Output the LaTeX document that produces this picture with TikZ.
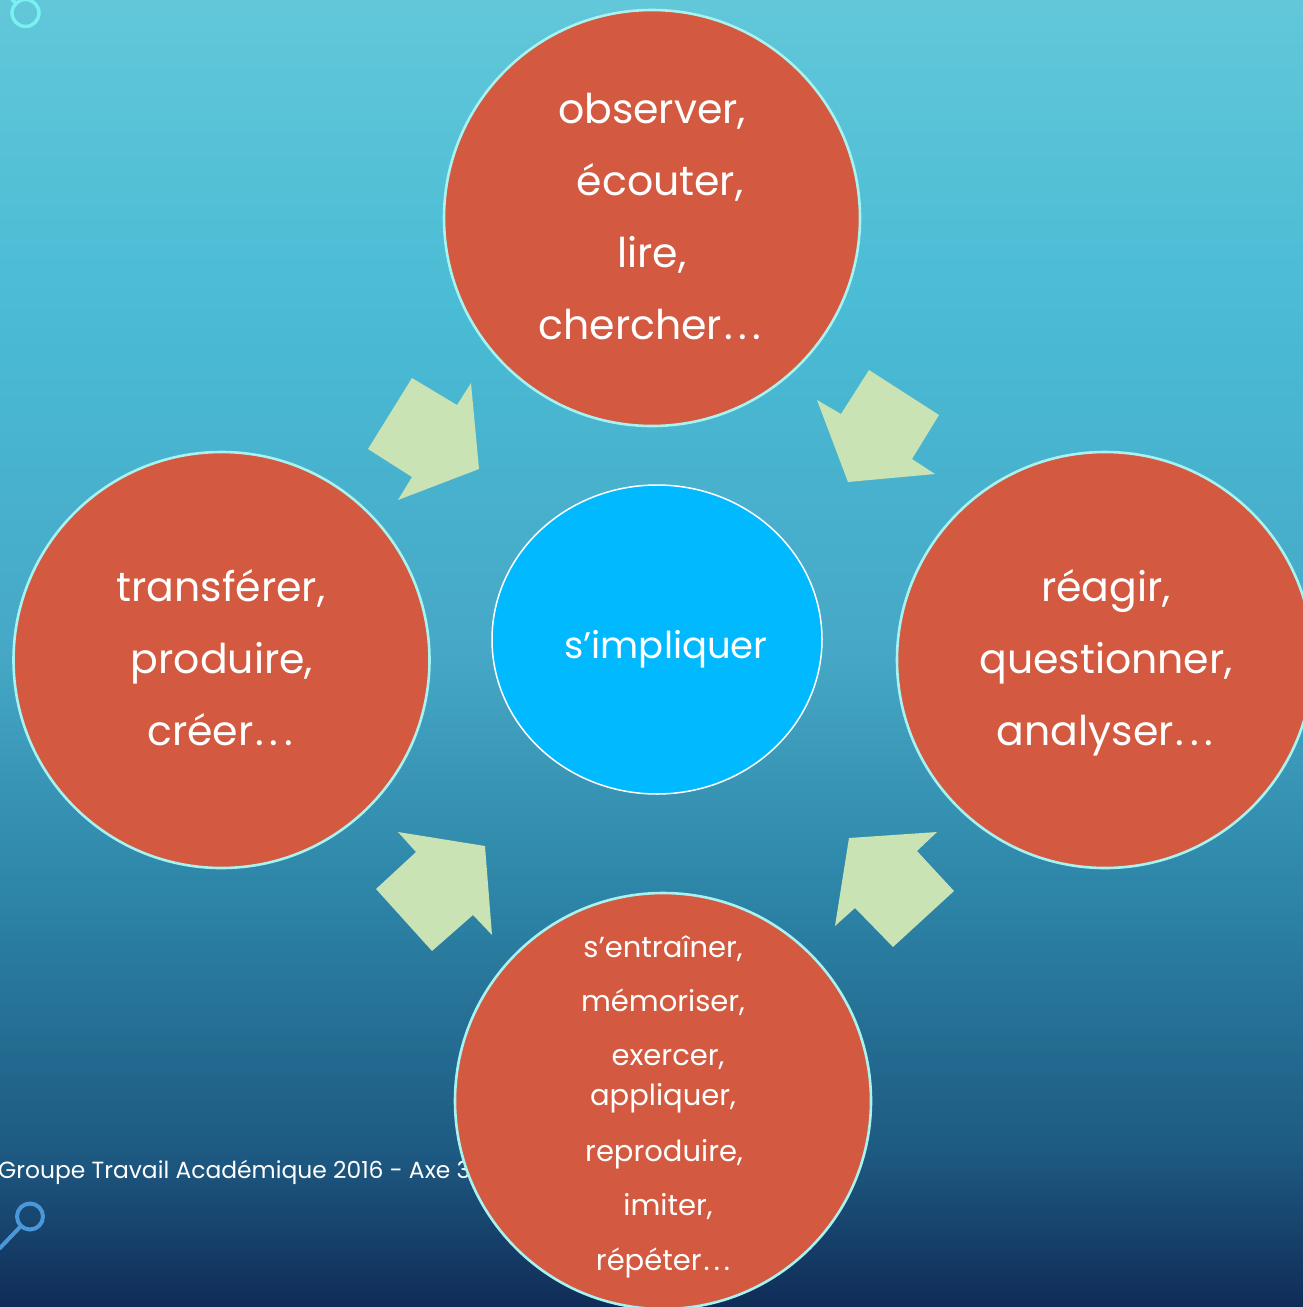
\documentclass[tikz,border=0pt]{standalone}
\usepackage{fontspec}
\usetikzlibrary{shapes.geometric}
\setmainfont{Poppins}
\newcommand{\wdots}{\kern2pt.\kern0.14em.\kern0.14em.}
\definecolor{bgA}{HTML}{62C7D9}
\definecolor{bgB}{HTML}{4ABCD5}
\definecolor{bgC}{HTML}{46A8C6}
\definecolor{bgD}{HTML}{2C84A6}
\definecolor{bgE}{HTML}{1E5A82}
\definecolor{bgF}{HTML}{0F2C57}
\definecolor{disc}{HTML}{D35A40}
\definecolor{discline}{HTML}{A8F2F0}
\definecolor{centerfill}{HTML}{00B9FF}
\definecolor{arrowfill}{HTML}{C9E3B4}
\definecolor{iconA}{HTML}{7AF0F0}
\definecolor{iconB}{HTML}{4A98DA}
\begin{document}
\begin{tikzpicture}[x=1pt,y=-1pt,
  disk/.style={circle,fill=disc,draw=discline,line width=2.6pt,minimum size=416pt,inner sep=0pt},
  word/.style={text=white,font=\fontsize{41}{41}\selectfont,anchor=base,inner sep=0pt},
  smallword/.style={text=white,font=\fontsize{29}{29}\selectfont,anchor=base,inner sep=0pt},
  blockarrow/.style={fill=arrowfill}]
\useasboundingbox (0,0) rectangle (1303,1307);
% background
\shade[top color=bgA,bottom color=bgB] (0,0) rectangle (1303,300);
\shade[top color=bgB,bottom color=bgC] (0,300) rectangle (1303,650);
\shade[top color=bgC,bottom color=bgD] (0,650) rectangle (1303,900);
\shade[top color=bgD,bottom color=bgE] (0,900) rectangle (1303,1150);
\shade[top color=bgE,bottom color=bgF] (0,1150) rectangle (1303,1307);
% icons
\draw[iconA,line width=3.5pt] (25.5,13) circle (13.5);
\draw[iconA,line width=3.5pt] (16,3.5) -- (8,-5);
\draw[iconB,line width=4pt] (30,1216.5) circle (13);
\draw[iconB,line width=4pt,line cap=round] (21,1226) -- (0,1248);
% footer (behind the discs)
\node[text=white,font=\fontsize{23.4}{23.4}\selectfont,anchor=base west,inner sep=0pt] (foot) at (-2,1178) {Groupe Travail Académique 2016 - Axe 3};
% block arrows
\fill[blockarrow] (412,378) -- (457,405) -- (471,383) -- (479,469) -- (398,500) -- (412,477) -- (368,449) -- cycle;
\fill[blockarrow] (869,370) -- (939,415) -- (912,459) -- (935,474) -- (848,482) -- (817,400) -- (841,414) -- cycle;
\fill[blockarrow] (398,832) -- (485,846) -- (492,935) -- (473,915) -- (432,951) -- (376,889) -- (416,852) -- cycle;
\fill[blockarrow] (849,838) -- (937,832) -- (917,851) -- (954,891) -- (893,947) -- (855,908) -- (835,926) -- cycle;
% discs
\node[disk] (top) at (652,218) {};
\node[disk] (left) at (221.5,660) {};
\node[disk] (right) at (1105,660) {};
\node[disk] (bottom) at (663,1101) {};
\node[ellipse,fill=centerfill,draw=white,line width=1.5pt,minimum width=330pt,minimum height=309pt,inner sep=0pt] (mid) at (657,639.5) {};
% texts
\node[word] (t1) at (652,123) {observer,};
\node[word] (t2) at (660,195) {écouter,};
\node[word] (t3) at (652,267) {lire,};
\node[word] (t4) at (650,339) {chercher\wdots};
\node[word] (l1) at (221,601) {transférer,};
\node[word] (l2) at (222,673) {produire,};
\node[word] (l3) at (220,745) {créer\wdots};
\node[word] (r1) at (1106,601) {réagir,};
\node[word] (r2) at (1106,673) {questionner,};
\node[word] (r3) at (1105,745) {analyser\wdots};
\node[word,font=\fontsize{37}{37}\selectfont] (m1) at (666,658) {s’impliquer};
\node[smallword] (b1) at (663,957) {s’entraîner,};
\node[smallword] (b2) at (663,1011) {mémoriser,};
\node[smallword] (b3) at (668,1065) {exercer,};
\node[smallword] (b4) at (663,1105) {appliquer,};
\node[smallword] (b5) at (664,1161) {reproduire,};
\node[smallword] (b6) at (668,1215) {imiter,};
\node[smallword] (b7) at (663,1270) {répéter\wdots};
\end{tikzpicture}
\end{document}
